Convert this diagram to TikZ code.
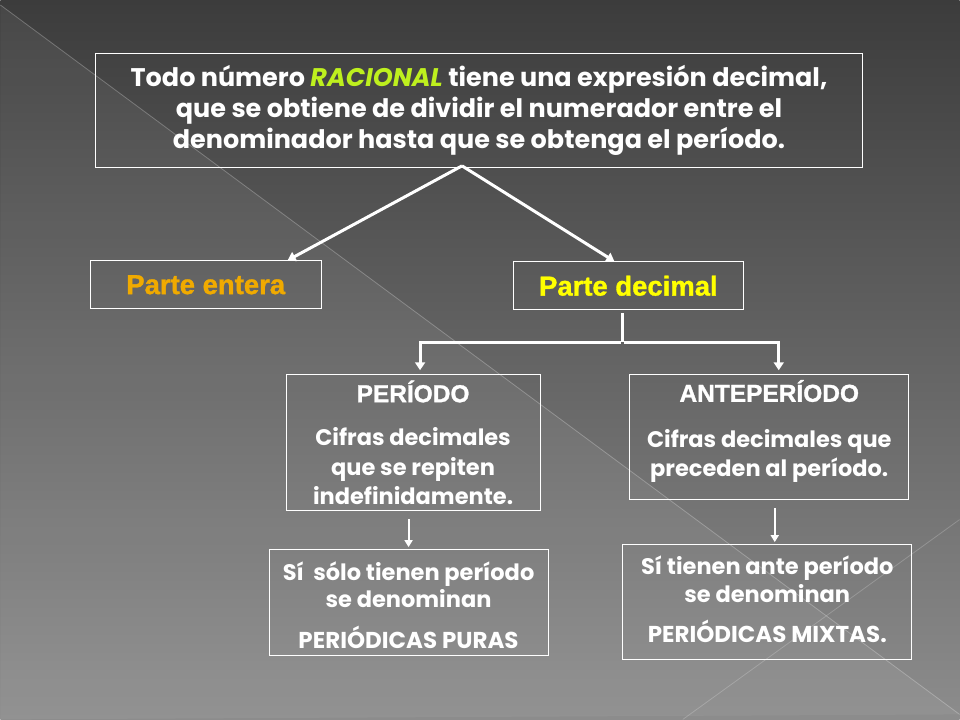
\documentclass[tikz,border=0pt]{standalone}
\usepackage{fontspec}
\setmainfont{Liberation Sans}
\newfontfamily\gothic{Poppins}
\newfontfamily\heading{Liberation Sans Bold}[FakeBold=1.2]
\usetikzlibrary{arrows.meta}

\definecolor{bgtop}{RGB}{60,60,60}
\definecolor{bgbottom}{RGB}{140,140,140}
\definecolor{racional}{RGB}{190,240,30}
\definecolor{entera}{RGB}{240,170,0}
\definecolor{decimalc}{RGB}{255,255,0}

\tikzset{
  box/.style={draw=white, line width=0.9pt, align=center, text=white, inner sep=0pt},
  body/.style={font=\gothic\bfseries\fontsize{22.5}{29.5}\selectfont},
  conn/.style={draw=white, line width=3pt},
  thin conn/.style={draw=white, line width=2pt},
  tip/.style={-{Triangle[length=8pt,width=10pt]}},
  small tip/.style={-{Triangle[length=7pt,width=8pt]}},
}

\begin{document}
\begin{tikzpicture}[x=1pt,y=-1pt]
  % fondo
  \shade[top color=bgtop, bottom color=bgbottom] (0,0) rectangle (960,720);
  \fill[white, opacity=0.06] (0,5) -- (960,715) -- (0,720) -- cycle;
  \draw[white, opacity=0.25, line width=0.8pt] (0,5) -- (960,715);
  \draw[white, opacity=0.2, line width=0.8pt] (960,520) -- (683,720);
  \useasboundingbox (0,0) rectangle (960,720);

  % cajas
  \node[box, minimum width=768, minimum height=115,
        font=\gothic\bfseries\fontsize{25.5}{31}\selectfont] (todo) at (479,110.5)
    {Todo número {\color{racional}\itshape RACIONAL} tiene una expresión decimal,\\
     que se obtiene de dividir el numerador entre el\\
     denominador hasta que se obtenga el período.};
  \node[box, minimum width=231, minimum height=48, text=entera,
        font=\heading\fontsize{27.5}{30}\selectfont] (entera) at (205.5,285) {Parte entera};
  \node[box, minimum width=231, minimum height=48, text=decimalc,
        font=\heading\fontsize{27.5}{30}\selectfont] (decimal) at (628.5,286) {Parte decimal};
  \node[box, body, minimum width=254, minimum height=136] (periodo) at (413,443)
    {{\heading\fontsize{24.5}{28}\selectfont PERÍODO}\\[14pt]
     Cifras decimales\\ que se repiten\\ indefinidamente.};
  \node[box, body, minimum width=279, minimum height=125] (ante) at (769.5,437.5)
    {{\heading\fontsize{24.5}{28}\selectfont ANTEPERÍODO}\\[16pt]
     Cifras decimales que\\ preceden al período.\\[-12pt]{}};
  \node[box, body, minimum width=279, minimum height=106] (puras) at (408.5,603)
    {{}\\[-5.5pt] Sí\ \ sólo tienen período\\[-2pt] se denominan\\[11pt]
     {\fontsize{23}{26}\selectfont PERIÓDICAS PURAS}};
  \node[box, body, minimum width=289, minimum height=115] (mixtas) at (767.5,602.5)
    {Sí tienen ante período\\[-2pt] se denominan\\[11pt]
     {\fontsize{23}{26}\selectfont PERIÓDICAS MIXTAS.}\\[-24.5pt]{}};

  % conectores
  \coordinate (apex) at (462,166);
  \draw[conn, tip] (apex) -- ([xshift=-34pt]entera.north east);
  \draw[conn, tip] (apex) -- ([xshift=-14pt]decimal.north);
  \draw[conn] ([xshift=-6pt,yshift=-3pt]decimal.south) -- ++(0,29) coordinate (split);
  \draw[conn, tip, shorten >=4pt] ([xshift=-1.5pt]split) -| ([xshift=7pt]periodo.north);
  \draw[conn, tip, shorten >=4pt] ([xshift=1.5pt]split) -| ([xshift=9.5pt]ante.north);
  \draw[thin conn, small tip, shorten <=8pt, shorten >=2pt]
    (periodo.south -| puras.north) -- (puras.north);
  \draw[thin conn, small tip, shorten <=8pt, shorten >=2pt]
    ([xshift=5.5pt]ante.south) -- ([xshift=5.5pt]ante.south |- mixtas.north);
\end{tikzpicture}
\end{document}
